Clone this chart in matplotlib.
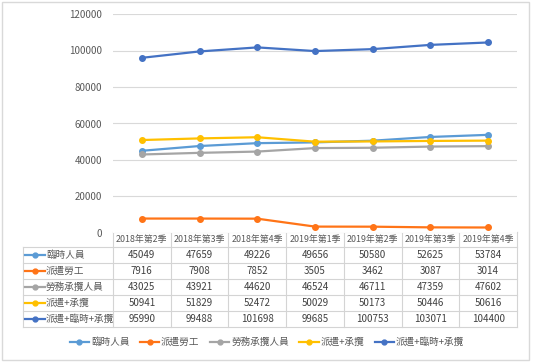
import numpy as np
import matplotlib.pyplot as plt
from matplotlib.patches import Rectangle
from matplotlib.lines import Line2D

plt.rcParams['font.family'] = ['Noto Sans CJK TC', 'DejaVu Sans']

quarters = ['2018年第2季', '2018年第3季', '2018年第4季', '2019年第1季',
            '2019年第2季', '2019年第3季', '2019年第4季']
names = ['臨時人員', '派遣勞工', '勞務承攬人員', '派遣+承攬', '派遣+臨時+承攬']
temp_staff = [45049, 47659, 49226, 49656, 50580, 52625, 53784]
dispatch = [7916, 7908, 7852, 3505, 3462, 3087, 3014]
contract = [43025, 43921, 44620, 46524, 46711, 47359, 47602]
disp_contract = [50941, 51829, 52472, 50029, 50173, 50446, 50616]
disp_temp_contract = [95990, 99488, 101698, 99685, 100753, 103071, 104400]
series = [temp_staff, dispatch, contract, disp_contract, disp_temp_contract]
colors = ['#5B9BD5', '#FF7417', '#A5A5A5', '#FFC000', '#4472C4']

W, H = 534, 364
fig = plt.figure(figsize=(W / 100, H / 100), dpi=100)


def fx(px):
    return px / W


def fy(py):
    return 1 - py / H


# outer frame
fig.add_artist(Rectangle((fx(2), fy(360)), fx(527), 358 / H, transform=fig.transFigure,
                         fill=False, edgecolor='#d9d9d9', lw=1))

left, right, top, bottom = 113, 517, 14, 233
ax = fig.add_axes([fx(left), fy(bottom), fx(right) - fx(left), fy(top) - fy(bottom)])
x = np.arange(len(quarters))
for vals, name, c in zip(series, names, colors):
    ax.plot(x, vals, color=c, lw=1.6, marker='o', ms=4, label=name)
ax.set_xlim(-0.5, len(quarters) - 0.5)
ax.set_ylim(0, 120000)
ax.set_yticks(range(0, 120001, 20000))
ax.grid(axis='y', color='#d9d9d9', lw=0.8)
ax.set_axisbelow(True)
ax.tick_params(axis='y', length=0, labelsize=7, labelcolor='#595959', pad=8)
ax.set_xticks([])
for s in ax.spines.values():
    s.set_visible(False)

# data table under the chart
tab = fig.add_axes([0, 0, 1, 1], zorder=-1)
tab.set_xlim(0, W)
tab.set_ylim(H, 0)
tab.axis('off')
col_edges = np.linspace(left, right, len(quarters) + 1)
row_edges = [232, 247, 263, 279, 295, 311, 327]
lab_left = 23
gc = '#d4d4d4'
tab.plot([left, right], [row_edges[0]] * 2, color=gc, lw=0.8)
for y in row_edges[1:]:
    tab.plot([lab_left, right], [y, y], color=gc, lw=0.8)
tab.plot([lab_left, lab_left], [row_edges[1], row_edges[-1]], color=gc, lw=0.8)
for xe in col_edges:
    tab.plot([xe, xe], [row_edges[0], row_edges[-1]], color=gc, lw=0.8)
centers = (col_edges[:-1] + col_edges[1:]) / 2
for cx, q in zip(centers, quarters):
    tab.text(cx, (row_edges[0] + row_edges[1]) / 2, q, ha='center', va='center',
             fontsize=6.4, color='#595959')
for i, (vals, name, c) in enumerate(zip(series, names, colors)):
    yc = (row_edges[i + 1] + row_edges[i + 2]) / 2
    tab.plot([25, 45], [yc, yc], color=c, lw=1.6)
    tab.plot([35], [yc], color=c, marker='o', ms=3.5)
    tab.text(46, yc, name, ha='left', va='center', fontsize=6.9, color='#595959')
    for cx, v in zip(centers, vals):
        tab.text(cx, yc, str(v), ha='center', va='center', fontsize=7, color='#404040')

handles = [Line2D([], [], color=c, lw=1.6, marker='o', ms=3.5) for c in colors]
fig.legend(handles, names, ncol=5, loc='center', bbox_to_anchor=(fx(267), fy(342)),
           frameon=False, fontsize=6.9, handlelength=2.0, handletextpad=0.2,
           columnspacing=1.1, labelcolor='#595959')

fig.savefig('out.png', dpi=100)
